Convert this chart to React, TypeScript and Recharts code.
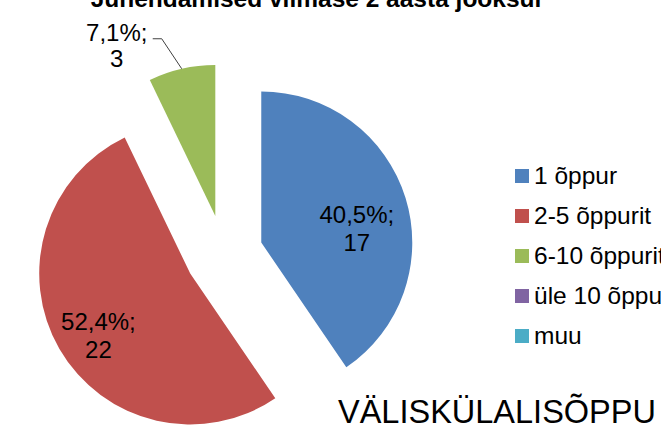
import { PieChart, Pie, Cell, Legend } from 'recharts';

const categories = ['1 õppur', '2-5 õppurit', '6-10 õppurit', 'üle 10 õppurit', 'muu'];
const counts = [17, 22, 3, 0, 0];
const colors = ['#4F81BD', '#C0504D', '#9BBB59', '#8064A2', '#4BACC6'];
const chartTitle = 'Juhendamised viimase 2 aasta jooksul';
const nextTitle = 'VÄLISKÜLALISÕPPU';

const FONT = 'Arial, "Liberation Sans", sans-serif';
const W = 661;
const H = 433;
const CX = 224;
const CY = 254;
const RADIUS = 151;
const EXPLODE = 39;
const RAD = Math.PI / 180;

const total = counts.reduce((a, b) => a + b, 0);
const pieData = categories.map((name, i) => ({ name, value: counts[i] }));

// mid angle of each slice in recharts convention (ccw from 3 o'clock, start at 12)
const midAngles = counts.map((v, i) => {
  const before = counts.slice(0, i).reduce((a, b) => a + b, 0);
  return 90 - (360 * (before + v / 2)) / total;
});

const fmtPct = (v: number) => ((v / total) * 100).toFixed(1).replace('.', ',') + '%;';

// inside labels: distance from slice apex + vertical nudge (Excel "best fit")
const insideLabel: Record<number, { r: number; dy: number }> = {
  0: { r: 100, dy: 18 },
  1: { r: 106, dy: 11 },
};

const makeLabel = (j: number) => (props: any) => {
  const { cx, cy, midAngle, index } = props;
  if (index !== j) return null;
  const cos = Math.cos(-midAngle * RAD);
  const sin = Math.sin(-midAngle * RAD);
  const style = { fontFamily: FONT, fontSize: 24, fill: '#000' };
  if (insideLabel[j]) {
    const { r, dy } = insideLabel[j];
    const x = cx + r * cos;
    const y = cy + r * sin + dy;
    return (
      <g>
        <text x={x} y={y - 8} textAnchor="middle" style={style}>{fmtPct(counts[j])}</text>
        <text x={x} y={y + 20} textAnchor="middle" style={style}>{counts[j]}</text>
      </g>
    );
  }
  // outside label with leader line
  const px = cx + RADIUS * cos;
  const py = cy + RADIUS * sin;
  const ex = px - 20;
  const ey = py - 30;
  const tx = ex - 9;
  return (
    <g>
      <polyline points={`${px},${py} ${ex},${ey} ${tx},${ey}`} fill="none" stroke="#404040" strokeWidth={1} />
      <text x={tx - 36} y={ey + 2} textAnchor="middle" style={style}>{fmtPct(counts[j])}</text>
      <text x={tx - 36} y={ey + 28} textAnchor="middle" style={style}>{counts[j]}</text>
    </g>
  );
};

const renderLegend = () => (
  <div style={{ fontFamily: FONT, fontSize: 24.5, color: '#000', whiteSpace: 'nowrap' }}>
    {categories.map((c, i) => (
      <div key={c} style={{ display: 'flex', alignItems: 'center', height: 40 }}>
        <span style={{ display: 'inline-block', width: 14, height: 14, background: colors[i], marginRight: 5 }} />
        <span>{c}</span>
      </div>
    ))}
  </div>
);

export default function App() {
  return (
    <div style={{ position: 'absolute', left: 0, top: 0, width: W, height: H, overflow: 'hidden', background: '#fff' }}>
      <PieChart width={W} height={H} margin={{ top: 0, right: 0, bottom: 0, left: 0 }}>
        {counts.map((v, j) => {
          if (v <= 0) return null;
          const dx = EXPLODE * Math.cos(-midAngles[j] * RAD);
          const dy = EXPLODE * Math.sin(-midAngles[j] * RAD);
          return (
            <Pie
              key={categories[j]}
              data={pieData}
              dataKey="value"
              nameKey="name"
              cx={CX + dx}
              cy={CY + dy}
              outerRadius={RADIUS}
              startAngle={90}
              endAngle={-270}
              stroke="none"
              labelLine={false}
              label={makeLabel(j)}
              legendType="none"
              isAnimationActive={false}
            >
              {pieData.map((d, i) => (
                <Cell key={d.name} fill={i === j ? colors[i] : 'transparent'} stroke="none" />
              ))}
            </Pie>
          );
        })}
        <Legend
          layout="vertical"
          align="center"
          verticalAlign="middle"
          content={renderLegend}
          wrapperStyle={{ left: 515, top: 156, width: 200 }}
        />
      </PieChart>
      <svg width={W} height={H} style={{ position: 'absolute', left: 0, top: 0, pointerEvents: 'none' }}>
        <text x={316} y={7} textAnchor="middle" style={{ fontFamily: FONT, fontSize: 24.5, fontWeight: 'bold', fill: '#000' }}>
          {chartTitle}
        </text>
        <text x={338} y={423} style={{ fontFamily: FONT, fontSize: 32.5, fill: '#000' }}>
          {nextTitle}
        </text>
      </svg>
    </div>
  );
}
